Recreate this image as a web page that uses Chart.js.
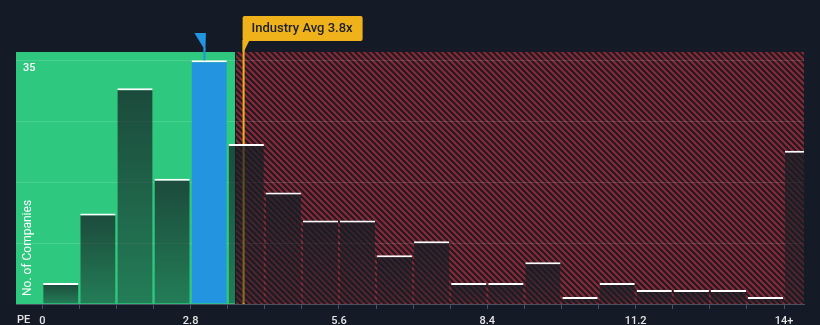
<!DOCTYPE html>
<html>
<head>
<meta charset="utf-8">
<title>PE distribution</title>
<script src="https://cdn.jsdelivr.net/npm/chart.js@4.4.1/dist/chart.umd.min.js"></script>
<style>
  html, body { margin: 0; padding: 0; background: #151b26; }
  #wrap { width: 820px; height: 325px; }
</style>
</head>
<body>
<div id="wrap"><canvas id="peChart" width="820" height="325"></canvas></div>
<script>
// start of each 0.7-wide PE bin, the last one is the open "14+" bucket
const binStart = [0, 0.7, 1.4, 2.1, 2.8, 3.5, 4.2, 4.9, 5.6, 6.3, 7.0, 7.7, 8.4, 9.1, 9.8, 10.5, 11.2, 11.9, 12.6, 13.3, 14.0];
const companyCounts = [3, 13, 31, 18, 35, 23, 16, 12, 12, 7, 9, 3, 3, 6, 1, 3, 2, 2, 2, 1, 22];
const xTickLabels = ['0', '2.8', '5.6', '8.4', '11.2', '14+'];
const yTickValues = [0, 8.75, 17.5, 26.25, 35];
const yLabelShown = 35;
const companyPE = 3.06;
const industryAvg = 3.8;
const fairEdge = 3.64;
const highlightIndex = 4;

const BG = '#151b26';
const GREEN = '#2ec87f';
const BLUE = '#2394df';
const GOLD = '#f0b21b';

Chart.defaults.font.family = 'Roboto, "Open Sans", sans-serif';

// red diagonal hatch for the "expensive" zone
function makeHatch() {
    const c = document.createElement('canvas');
    c.width = 6; c.height = 6;
    const g = c.getContext('2d');
    g.fillStyle = '#1f1a24';
    g.fillRect(0, 0, 6, 6);
    g.strokeStyle = '#8a2a36';
    g.lineWidth = 2.1;
    g.beginPath();
    g.moveTo(-1, -1); g.lineTo(7, 7);
    g.moveTo(-4, 2); g.lineTo(1, 7);
    g.moveTo(5, -1); g.lineTo(7, 1);
    g.stroke();
    return c;
}

function barFill(context) {
    if (context.dataIndex === highlightIndex) return BLUE;
    const chart = context.chart;
    if (!chart.chartArea || !chart.scales.y) return 'rgba(21,27,38,0.6)';
    const yScale = chart.scales.y;
    const top = yScale.getPixelForValue(context.raw.y);
    const bottom = yScale.getPixelForValue(0);
    const grad = chart.ctx.createLinearGradient(0, top, 0, bottom);
    grad.addColorStop(0, 'rgba(21,30,36,0.74)');
    grad.addColorStop(1, 'rgba(21,30,36,0.44)');
    return grad;
}

const zonesPlugin = {
    id: 'zones',
    beforeDraw(chart) {
        const { ctx, chartArea: a, scales: { x } } = chart;
        const edge = Math.round(x.getPixelForValue(fairEdge));
        ctx.save();
        ctx.fillStyle = BG;
        ctx.fillRect(0, 0, chart.width, chart.height);
        ctx.fillStyle = GREEN;
        ctx.fillRect(a.left, a.top, edge - a.left, a.bottom - a.top);
        ctx.fillStyle = ctx.createPattern(makeHatch(), 'repeat');
        ctx.fillRect(edge + 1, a.top, a.right - edge - 1, a.bottom - a.top);
        ctx.restore();
    },
    beforeDatasetsDraw(chart) {
        // the industry line sits behind the bars
        const { ctx, chartArea: a, scales: { x } } = chart;
        const px = x.getPixelForValue(industryAvg);
        ctx.save();
        ctx.strokeStyle = GOLD;
        ctx.lineWidth = 2;
        ctx.beginPath();
        ctx.moveTo(px, 40);
        ctx.lineTo(px, a.bottom);
        ctx.stroke();
        ctx.restore();
    },
    afterDraw(chart) {
        const { ctx, scales: { x, y } } = chart;
        ctx.save();

        // industry average tag
        const ix = x.getPixelForValue(industryAvg) - 1;
        ctx.fillStyle = GOLD;
        ctx.beginPath();
        ctx.roundRect(ix, 16, 120, 25, 2);
        ctx.fill();
        ctx.beginPath();
        ctx.moveTo(ix, 40);
        ctx.lineTo(ix + 7, 40);
        ctx.lineTo(ix + 1, 52);
        ctx.lineTo(ix, 52);
        ctx.closePath();
        ctx.fill();
        ctx.fillStyle = '#1b1f27';
        ctx.font = '500 13px Roboto, sans-serif';
        ctx.textBaseline = 'middle';
        ctx.textAlign = 'left';
        ctx.fillText('Industry Avg ' + industryAvg + 'x', ix + 9, 29);

        // company marker
        const cx = x.getPixelForValue(companyPE);
        const barTop = y.getPixelForValue(companyCounts[highlightIndex]);
        ctx.fillStyle = BLUE;
        ctx.beginPath();
        ctx.moveTo(cx - 10, 33);
        ctx.lineTo(cx + 1.5, 33);
        ctx.lineTo(cx + 1, 51);
        ctx.closePath();
        ctx.fill();
        ctx.strokeStyle = BLUE;
        ctx.lineWidth = 2;
        ctx.beginPath();
        ctx.moveTo(cx, 48);
        ctx.lineTo(cx, barTop);
        ctx.stroke();

        // axis captions
        ctx.fillStyle = '#ffffff';
        ctx.font = '12px Roboto, sans-serif';
        ctx.translate(28, 296);
        ctx.rotate(-Math.PI / 2);
        ctx.textAlign = 'left';
        ctx.textBaseline = 'middle';
        ctx.fillText('No. of Companies', 0, 0);
        ctx.setTransform(1, 0, 0, 1, 0, 0);
        ctx.fillStyle = '#e6e6e6';
        ctx.font = '500 11px Roboto, sans-serif';
        ctx.fillText('PE', 17, 320);
        ctx.restore();
    }
};

new Chart(document.getElementById('peChart'), {
    type: 'bar',
    data: {
        datasets: [{
            label: 'No. of Companies',
            data: binStart.map((s, i) => ({ x: s + 0.35, y: companyCounts[i] })),
            backgroundColor: barFill,
            borderColor: '#ffffff',
            borderWidth: { top: 2, right: 0, bottom: 0, left: 0 },
            borderSkipped: 'bottom',
            barPercentage: 0.95,
            categoryPercentage: 1,
            clip: 0
        }]
    },
    options: {
        responsive: false,
        animation: false,
        layout: { padding: { left: 16, right: 16, top: 52, bottom: 0 } },
        scales: {
            x: {
                type: 'linear',
                min: -0.496,
                max: 14.377,
                offset: false,
                afterBuildTicks: (axis) => { axis.ticks = binStart.map(v => ({ value: v })); },
                afterFit: (axis) => { axis.height = 21; },
                grid: { display: true, drawOnChartArea: false, drawTicks: true, tickLength: 5, color: '#4a5162', offset: false },
                border: { display: true, color: '#4a5162', width: 1 },
                ticks: {
                    autoSkip: false,
                    maxRotation: 0,
                    minRotation: 0,
                    padding: 6,
                    color: '#e6e6e6',
                    font: { size: 11, weight: '500' },
                    callback: (value, index) => (index % 4 === 0 ? xTickLabels[index / 4] : '')
                }
            },
            y: {
                min: 0,
                max: 36.2,
                afterBuildTicks: (axis) => { axis.ticks = yTickValues.map(v => ({ value: v })); },
                afterFit: (axis) => { axis.width = 0; },
                grid: { color: 'rgba(255,255,255,0.13)', drawTicks: false },
                border: { display: false },
                ticks: {
                    mirror: true,
                    padding: 7,
                    labelOffset: 8,
                    color: '#ffffff',
                    font: { size: 11, weight: '500' },
                    callback: (value) => (value === yLabelShown ? String(value) : '')
                }
            }
        },
        plugins: {
            legend: { display: false },
            tooltip: { enabled: false },
            title: { display: false }
        }
    },
    plugins: [zonesPlugin]
});
</script>
</body>
</html>
